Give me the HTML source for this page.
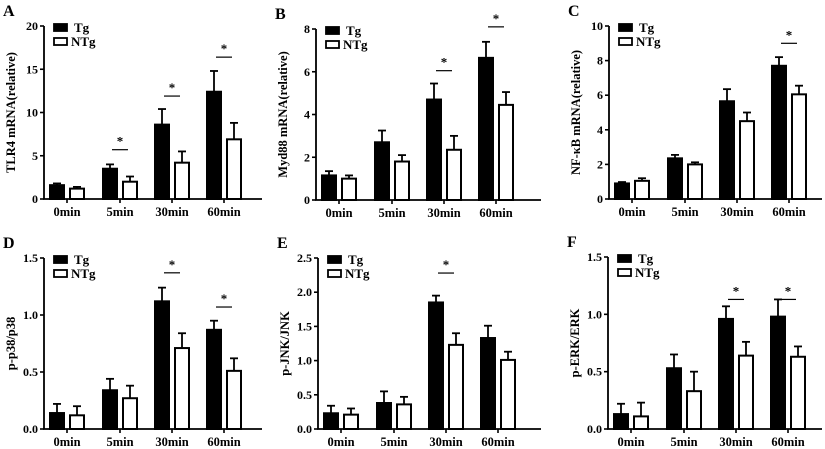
<!DOCTYPE html>
<html><head><meta charset="utf-8"><style>
body{margin:0;background:#fff;}
svg{display:block;font-family:"Liberation Serif","Times New Roman",serif;font-weight:700;}
svg text{font-weight:700;}
</style></head><body>
<svg id="fig" width="825" height="449" viewBox="0 0 825 449" xmlns="http://www.w3.org/2000/svg"></svg>
<script>
const categories = ["0min","5min","30min","60min"];
const seriesNames = ["Tg","NTg"];
const aTg=[1.6,3.5,8.6,12.4], aTgErr=[0.2,0.5,1.8,2.4], aNTg=[1.2,2.0,4.2,6.9], aNTgErr=[0.2,0.6,1.3,1.9], aSig=[null,5.7,11.9,16.4];
const bTg=[1.15,2.7,4.7,6.65], bTgErr=[0.2,0.55,0.75,0.75], bNTg=[1.0,1.8,2.35,4.45], bNTgErr=[0.15,0.3,0.65,0.6], bSig=[null,null,6.05,8.1];
const cTg=[0.9,2.35,5.65,7.7], cTgErr=[0.08,0.2,0.7,0.5], cNTg=[1.05,2.0,4.5,6.05], cNTgErr=[0.15,0.12,0.5,0.5], cSig=[null,null,null,9.0];
const dTg=[0.14,0.34,1.12,0.87], dTgErr=[0.08,0.1,0.12,0.08], dNTg=[0.12,0.27,0.71,0.51], dNTgErr=[0.08,0.11,0.13,0.11], dSig=[null,null,1.37,1.07];
const eTg=[0.23,0.38,1.85,1.33], eTgErr=[0.11,0.17,0.1,0.18], eNTg=[0.21,0.36,1.23,1.01], eNTgErr=[0.09,0.11,0.17,0.12], eSig=[null,null,2.28,null];
const fTg=[0.13,0.53,0.96,0.98], fTgErr=[0.09,0.12,0.11,0.15], fNTg=[0.11,0.33,0.64,0.63], fNTgErr=[0.12,0.17,0.12,0.09], fSig=[null,null,1.13,1.13];
const aTicks=["0","5","10","15","20"], bTicks=["0","2","4","6","8"], cTicks=["0","2","4","6","8","10"];
const dTicks=["0.0","0.5","1.0","1.5"], eTicks=["0.0","0.5","1.0","1.5","2.0","2.5"], fTicks=["0.0","0.5","1.0","1.5"];

const NS="http://www.w3.org/2000/svg";
const svg=document.getElementById('fig');
function mk(tag,attrs,parent,text){const e=document.createElementNS(NS,tag);for(const k in attrs)e.setAttribute(k,attrs[k]);if(text!==undefined)e.textContent=text;(parent||svg).appendChild(e);return e;}

function panel(o){
  const g=mk('g',{});
  
  
  const max=parseFloat(o.ticks[o.ticks.length-1]);
  const y=v=>o.yb-(v/max)*(o.yb-o.yt);
  const offs=[23,76,128,180];
  const cx=i=>o.x0+offs[i];
  const L=mk('text',{x:o.x0-41,y:o.yt-10,'font-size':16},g,o.letter);
  
  
  const ax=mk('path',{d:`M${o.x0} ${o.yt} V${o.yb} H${o.x1}`,stroke:'#000','stroke-width':1.8,fill:'none'},g);
  
  
  o.ticks.forEach(t=>{const yy=y(parseFloat(t));
    mk('line',{x1:o.x0-4,x2:o.x0,y1:yy,y2:yy,stroke:'#000','stroke-width':1.6},g);
    const tl=mk('text',{x:o.x0-6,y:yy+4,'font-size':12,'text-anchor':'end'},g,t);
    
    
  });
  const yt=mk('text',{transform:`translate(${o.x0-29},${(o.yt+o.yb)/2}) rotate(-90)`,'font-size':12.5,'text-anchor':'middle'},g,o.title);
  
  
  categories.forEach((c,i)=>{
    mk('line',{x1:cx(i),x2:cx(i),y1:o.yb,y2:o.yb+4,stroke:'#000','stroke-width':1.6},g);
    const xl=mk('text',{x:cx(i),y:o.yb+17,'font-size':12.5,'text-anchor':'middle'},g,c);
    
    
    [[o.tg,o.tgE,-17,'#000','tg'],[o.ntg,o.ntgE,3,'#fff','ntg']].forEach(([v,e,dx,fill,nm])=>{
      const x=cx(i)+dx, w=14, top=y(v[i]), mid=x+w/2, et=y(v[i]+e[i]);
      mk('line',{x1:mid,x2:mid,y1:top,y2:et,stroke:'#000','stroke-width':1.8},g);
      mk('line',{x1:mid-4,x2:mid+4,y1:et,y2:et,stroke:'#000','stroke-width':1.8},g);
      const r=mk('rect',{x:x,y:top,width:w,height:o.yb-top,fill:fill,stroke:'#000','stroke-width':2},g);
      
      
    });
    if(o.sig[i]!=null){const sy=y(o.sig[i]);
      mk('line',{x1:cx(i)-8,x2:cx(i)+8,y1:sy,y2:sy,stroke:'#000','stroke-width':1.2},g);
      const s=mk('text',{x:cx(i),y:sy-4,'font-size':13,'text-anchor':'middle'},g,'*');
      
      
    }
  });
  seriesNames.forEach((n,k)=>{
    const ly=o.yt-2+k*14;
    const lg=mk('g',{},g);
    
    
    mk('rect',{x:o.x0+10,y:ly,width:13,height:7,fill:k?'#fff':'#000',stroke:'#000','stroke-width':1.8},lg);
    mk('text',{x:o.x0+(k?27:30),y:ly+8,'font-size':13},lg,n);
  });
}
panel({letter:'A',x0:44,x1:262,yt:26,yb:199,ticks:aTicks,title:'TLR4 mRNA(relative)',tg:aTg,tgE:aTgErr,ntg:aNTg,ntgE:aNTgErr,sig:aSig});
panel({letter:'B',x0:316,x1:541,yt:29,yb:200,ticks:bTicks,title:'Myd88 mRNA(relative)',tg:bTg,tgE:bTgErr,ntg:bNTg,ntgE:bNTgErr,sig:bSig});
panel({letter:'C',x0:609,x1:822,yt:26,yb:199,ticks:cTicks,title:'NF-κB mRNA(relative)',tg:cTg,tgE:cTgErr,ntg:cNTg,ntgE:cNTgErr,sig:cSig});
panel({letter:'D',x0:44,x1:262,yt:258,yb:429,ticks:dTicks,title:'p-p38/p38',tg:dTg,tgE:dTgErr,ntg:dNTg,ntgE:dNTgErr,sig:dSig});
panel({letter:'E',x0:318,x1:541,yt:258,yb:429,ticks:eTicks,title:'p-JNK/JNK',tg:eTg,tgE:eTgErr,ntg:eNTg,ntgE:eNTgErr,sig:eSig});
panel({letter:'F',x0:608,x1:822,yt:257,yb:429,ticks:fTicks,title:'p-ERK/ERK',tg:fTg,tgE:fTgErr,ntg:fNTg,ntgE:fNTgErr,sig:fSig});
</script>
</body></html>
